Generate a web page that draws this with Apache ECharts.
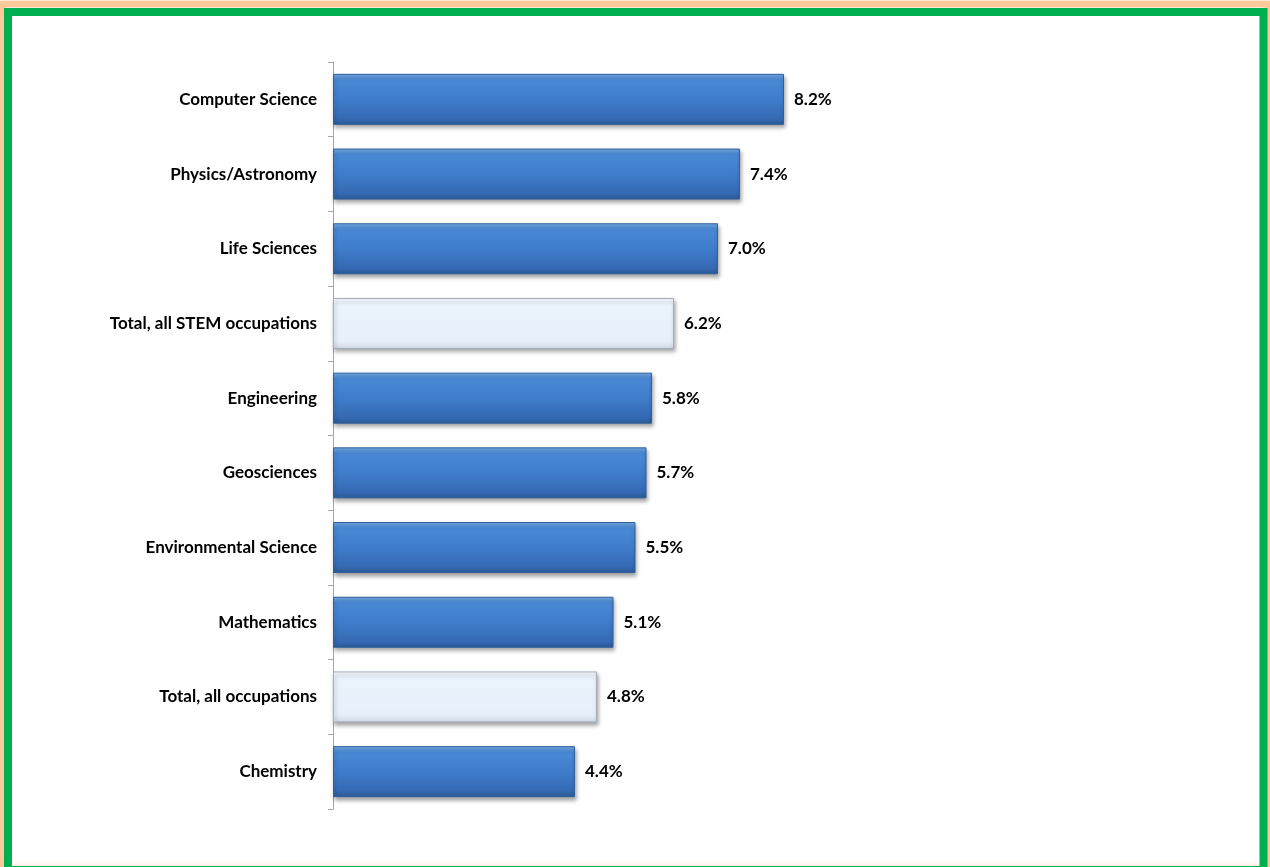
<!DOCTYPE html>
<html>
<head>
<meta charset="utf-8">
<script src="https://cdn.jsdelivr.net/npm/echarts@6/dist/echarts.min.js"></script>
<style>
  html, body { margin: 0; padding: 0; background: #ffffff; }
  #chart { width: 1270px; height: 867px; }
</style>
</head>
<body>
<div id="chart"></div>
<script>
// Share of workers in each field (percent), listed top to bottom
const categories = [
  'Computer Science',
  'Physics/Astronomy',
  'Life Sciences',
  'Total, all STEM occupations',
  'Engineering',
  'Geosciences',
  'Environmental Science',
  'Mathematics',
  'Total, all occupations',
  'Chemistry'
];
const values = [8.2, 7.4, 7.0, 6.2, 5.8, 5.7, 5.5, 5.1, 4.8, 4.4];
// Rows drawn as pale reference bars
const totalRows = ['Total, all STEM occupations', 'Total, all occupations'];

const blueFill = new echarts.graphic.LinearGradient(0, 0, 0, 1, [
  { offset: 0, color: '#74ace6' },
  { offset: 0.12, color: '#4a89d6' },
  { offset: 0.5, color: '#3f7dcb' },
  { offset: 0.88, color: '#3569b3' },
  { offset: 1, color: '#2c5993' }
]);
const paleFill = new echarts.graphic.LinearGradient(0, 0, 0, 1, [
  { offset: 0, color: '#f8fbff' },
  { offset: 0.15, color: '#ebf3fc' },
  { offset: 0.85, color: '#e6f0fb' },
  { offset: 1, color: '#d0d9e4' }
]);

const barData = values.map((v, i) => {
  const pale = totalRows.includes(categories[i]);
  return {
    value: v,
    itemStyle: {
      color: pale ? paleFill : blueFill,
      borderColor: pale ? '#a3adb9' : '#2f5f9c',
      borderWidth: 1,
      shadowColor: 'rgba(0,0,0,0.35)',
      shadowBlur: 4,
      shadowOffsetX: 1,
      shadowOffsetY: 3
    }
  };
});

const labelFont = {
  color: '#000000',
  fontFamily: 'Lato',
  fontWeight: 'bold',
  fontSize: 17
};

const chart = echarts.init(document.getElementById('chart'), null, { renderer: 'canvas' });
chart.setOption({
  animation: false,
  backgroundColor: '#ffffff',
  grid: { left: 333, top: 62, width: 550, bottom: 58, containLabel: false },
  xAxis: {
    type: 'value',
    min: 0,
    max: 10,
    show: false
  },
  yAxis: {
    type: 'category',
    inverse: true,
    data: categories,
    boundaryGap: true,
    axisLine: { show: true, lineStyle: { color: '#a6a6a6', width: 1 } },
    axisTick: { show: true, length: 5, lineStyle: { color: '#a6a6a6' } },
    axisLabel: Object.assign({ margin: 16 }, labelFont)
  },
  series: [{
    type: 'bar',
    data: barData,
    barWidth: 51,
    label: Object.assign({
      show: true,
      position: 'right',
      distance: 10,
      formatter: p => p.value.toFixed(1) + '%'
    }, labelFont)
  }],
  graphic: [
    {
      // soft peach glow just outside the frame
      type: 'rect',
      z: 99,
      silent: true,
      shape: { x: 2, y: 4, width: 1267, height: 866 },
      style: {
        fill: null,
        stroke: 'rgba(252,200,150,0.9)',
        lineWidth: 6,
        shadowColor: 'rgba(250,185,120,0.8)',
        shadowBlur: 6
      }
    },
    {
      // green frame
      type: 'rect',
      z: 100,
      silent: true,
      shape: { x: 8, y: 12, width: 1255.5, height: 858 },
      style: {
        fill: null,
        stroke: '#00b050',
        lineWidth: 8
      }
    }
  ]
});
</script>
</body>
</html>
